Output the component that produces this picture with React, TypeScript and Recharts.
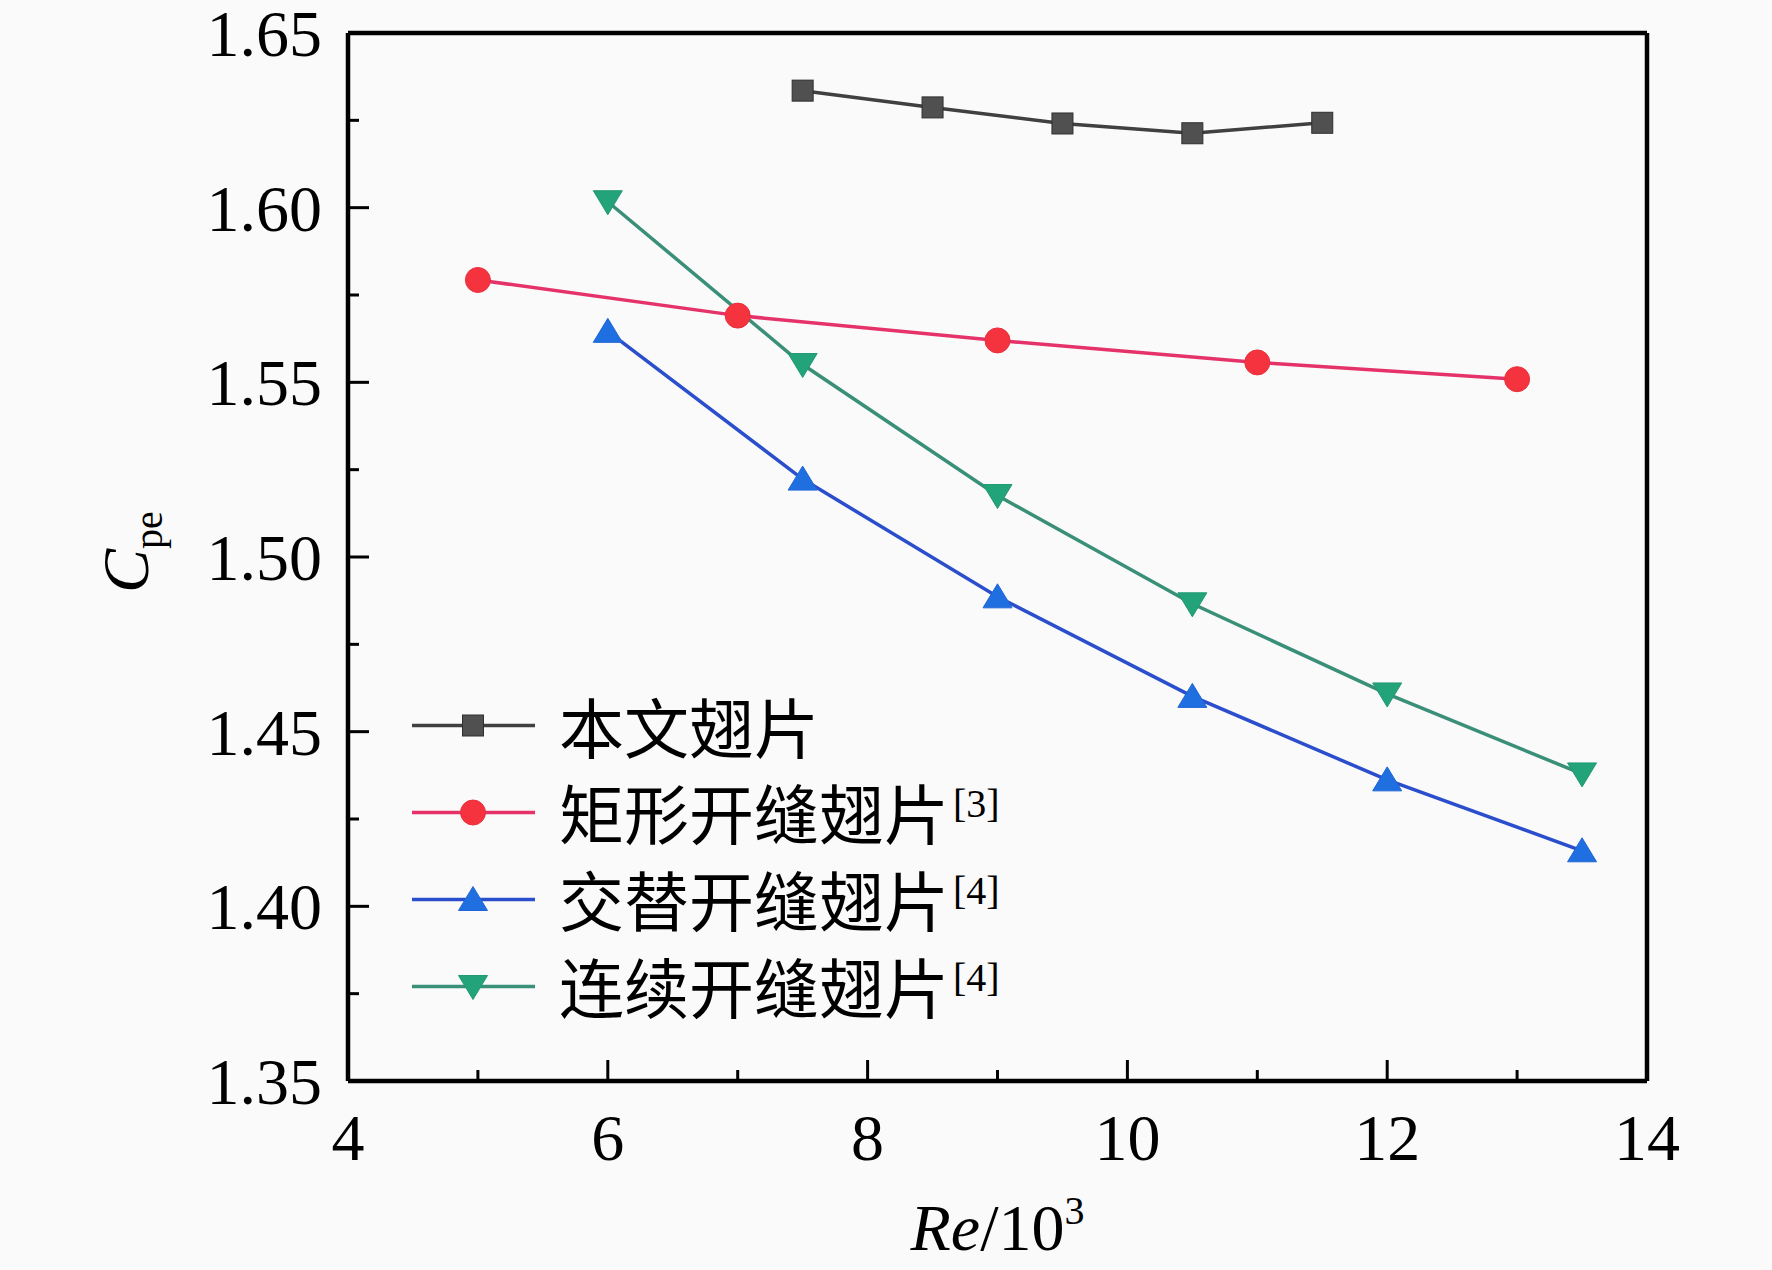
import React from 'react';
import { LineChart, Line, XAxis, YAxis, Legend, ReferenceLine } from 'recharts';

// ---- data ----
const benwenX = [7.5, 8.5, 9.5, 10.5, 11.5];
const benwenY = [1.6335, 1.6287, 1.6241, 1.6213, 1.6243];

const juxingX = [5, 7, 9, 11, 13];
const juxingY = [1.5793, 1.5691, 1.5620, 1.5557, 1.5509];

const jiaotiX = [6, 7.5, 9, 10.5, 12, 13.5];
const jiaotiY = [1.5646, 1.5223, 1.4886, 1.4601, 1.4362, 1.4159];

const lianxuX = [6, 7.5, 9, 10.5, 12, 13.5];
const lianxuY = [1.6017, 1.5551, 1.5176, 1.4866, 1.4608, 1.4379];

const seriesNames = ['本文翅片', '矩形开缝翅片', '交替开缝翅片', '连续开缝翅片'];
const seriesRefs = ['', '[3]', '[4]', '[4]'];

const xTicks = [4, 5, 6, 7, 8, 9, 10, 11, 12, 13, 14];
const yTicks = [1.35, 1.375, 1.4, 1.425, 1.45, 1.475, 1.5, 1.525, 1.55, 1.575, 1.6, 1.625, 1.65];
const xDomain = [4, 14];
const yDomain = [1.35, 1.65];

const toData = (xs: number[], ys: number[]) => xs.map((x, i) => ({ x, y: ys[i] }));

const serif = '"Liberation Serif", "Times New Roman", serif';
const cjk = '"Noto Sans CJK SC", "Noto Sans CJK JP", sans-serif';

type Shape = 'square' | 'circle' | 'up' | 'down';

const styles: { shape: Shape; line: string; fill: string; stroke: string }[] = [
  { shape: 'square', line: '#404040', fill: '#505050', stroke: '#2e2e2e' },
  { shape: 'circle', line: '#e5336a', fill: '#f5333f', stroke: '#e8303c' },
  { shape: 'up', line: '#2b4fcc', fill: '#1f6fe0', stroke: '#1f66d6' },
  { shape: 'down', line: '#3a8f78', fill: '#22a37a', stroke: '#229a72' },
];

const datasets = [
  toData(benwenX, benwenY),
  toData(juxingX, juxingY),
  toData(jiaotiX, jiaotiY),
  toData(lianxuX, lianxuY),
];

const AXIS_W = 4.5;

function Marker({ shape, cx, cy, fill, stroke }: { shape: Shape; cx: number; cy: number; fill: string; stroke: string }) {
  if (shape === 'square') {
    return <rect x={cx - 10.5} y={cy - 10.5} width={21} height={21} fill={fill} stroke={stroke} strokeWidth={1} />;
  }
  if (shape === 'circle') {
    return <circle cx={cx} cy={cy} r={12.5} fill={fill} stroke={stroke} strokeWidth={1} />;
  }
  if (shape === 'up') {
    return (
      <polygon
        points={`${cx},${cy - 13} ${cx - 14.5},${cy + 11} ${cx + 14.5},${cy + 11}`}
        fill={fill}
        stroke={stroke}
        strokeWidth={1}
      />
    );
  }
  return (
    <polygon
      points={`${cx - 14.5},${cy - 11} ${cx + 14.5},${cy - 11} ${cx},${cy + 13}`}
      fill={fill}
      stroke={stroke}
      strokeWidth={1}
    />
  );
}

const XTick = (props: any) => {
  const { x, y, payload } = props;
  const v = payload.value as number;
  const major = Math.round(v) % 2 === 0;
  return (
    <g>
      <line x1={x} x2={x} y1={y} y2={y - (major ? 21 : 11)} stroke="#000" strokeWidth={3} />
      {major && (
        <text x={x} y={y + 79} textAnchor="middle" fontFamily={serif} fontSize={66} fill="#000">
          {v}
        </text>
      )}
    </g>
  );
};

const YTick = (props: any) => {
  const { x, y, payload } = props;
  const v = payload.value as number;
  const major = Math.round(v * 1000) % 50 === 0;
  return (
    <g>
      <line x1={x} x2={x + (major ? 21 : 11)} y1={y} y2={y} stroke="#000" strokeWidth={3} />
      {major && (
        <text x={x - 26} y={y + 23} textAnchor="end" fontFamily={serif} fontSize={66} fill="#000">
          {v.toFixed(2)}
        </text>
      )}
    </g>
  );
};

const XLabel = (props: any) => {
  const vb = props.viewBox || { x: 348, y: 1081, width: 1299, height: 189 };
  const cx = vb.x + vb.width / 2;
  const by = vb.y + 169;
  return (
    <text x={cx} y={by} textAnchor="middle" fontFamily={serif} fontSize={66} fill="#000">
      <tspan fontStyle="italic">Re</tspan>
      <tspan>/10</tspan>
      <tspan fontSize={40} dy={-26}>3</tspan>
    </text>
  );
};

const YLabel = (props: any) => {
  const vb = props.viewBox || { x: 0, y: 33, width: 348, height: 1048 };
  const bx = 148;
  const cy = vb.y + vb.height / 2 - 5;
  return (
    <text
      x={bx}
      y={cy}
      transform={`rotate(-90, ${bx}, ${cy})`}
      textAnchor="middle"
      fontFamily={serif}
      fontSize={66}
      fill="#000"
    >
      <tspan fontStyle="italic">C</tspan>
      <tspan fontSize={40} dy={14}>pe</tspan>
    </text>
  );
};

const LegendContent = () => (
  <div style={{ display: 'flex', flexDirection: 'column' }}>
    {seriesNames.map((name, i) => {
      const s = styles[i];
      return (
        <div key={name} style={{ display: 'flex', alignItems: 'center', height: 87 }}>
          <svg width={159} height={87} style={{ display: 'block', flex: 'none' }}>
            <line x1={12} x2={135} y1={43.5} y2={43.5} stroke={s.line} strokeWidth={3.5} />
            <Marker shape={s.shape} cx={73} cy={43.5} fill={s.fill} stroke={s.stroke} />
          </svg>
          <span style={{ fontFamily: cjk, fontSize: 65, lineHeight: 1, color: '#000', whiteSpace: 'nowrap', position: 'relative' }}>
            {name}
            {seriesRefs[i] && (
              <span
                style={{
                  fontFamily: serif,
                  fontSize: 40,
                  position: 'relative',
                  top: -22,
                  marginLeft: 4,
                }}
              >
                {seriesRefs[i]}
              </span>
            )}
          </span>
        </div>
      );
    })}
  </div>
);

export default function App() {
  return (
    <div style={{ position: 'absolute', left: 0, top: 0, width: 1772, height: 1270, background: '#fafafa' }}>
      <LineChart width={1772} height={1270} margin={{ top: 33, right: 125, bottom: 0, left: 0 }}>
        <XAxis
          dataKey="x"
          type="number"
          domain={xDomain}
          ticks={xTicks}
          interval={0}
          height={189}
          tickSize={0}
          tickMargin={0}
          tickLine={false}
          tick={<XTick />}
          axisLine={{ stroke: '#000', strokeWidth: AXIS_W }}
          allowDuplicatedCategory={false}
          label={<XLabel />}
        />
        <YAxis
          type="number"
          domain={yDomain}
          ticks={yTicks}
          interval={0}
          width={348}
          tickSize={0}
          tickMargin={0}
          tickLine={false}
          tick={<YTick />}
          axisLine={{ stroke: '#000', strokeWidth: AXIS_W }}
          label={<YLabel />}
        />
        <ReferenceLine y={yDomain[1]} stroke="#000" strokeWidth={AXIS_W} ifOverflow="extendDomain" />
        <ReferenceLine x={xDomain[1]} stroke="#000" strokeWidth={AXIS_W} ifOverflow="extendDomain" />
        {datasets.map((d, i) => {
          const s = styles[i];
          return (
            <Line
              key={seriesNames[i]}
              data={d}
              dataKey="y"
              name={seriesNames[i]}
              type="linear"
              stroke={s.line}
              strokeWidth={3.5}
              isAnimationActive={false}
              activeDot={false}
              dot={(p: any) => (
                <Marker key={`${i}-${p.index}`} shape={s.shape} cx={p.cx} cy={p.cy} fill={s.fill} stroke={s.stroke} />
              )}
            />
          );
        })}
        <Legend
          layout="vertical"
          align="center"
          verticalAlign="middle"
          content={<LegendContent />}
          wrapperStyle={{ left: 400, top: 682, width: 800, height: 348 }}
        />
      </LineChart>
    </div>
  );
}
